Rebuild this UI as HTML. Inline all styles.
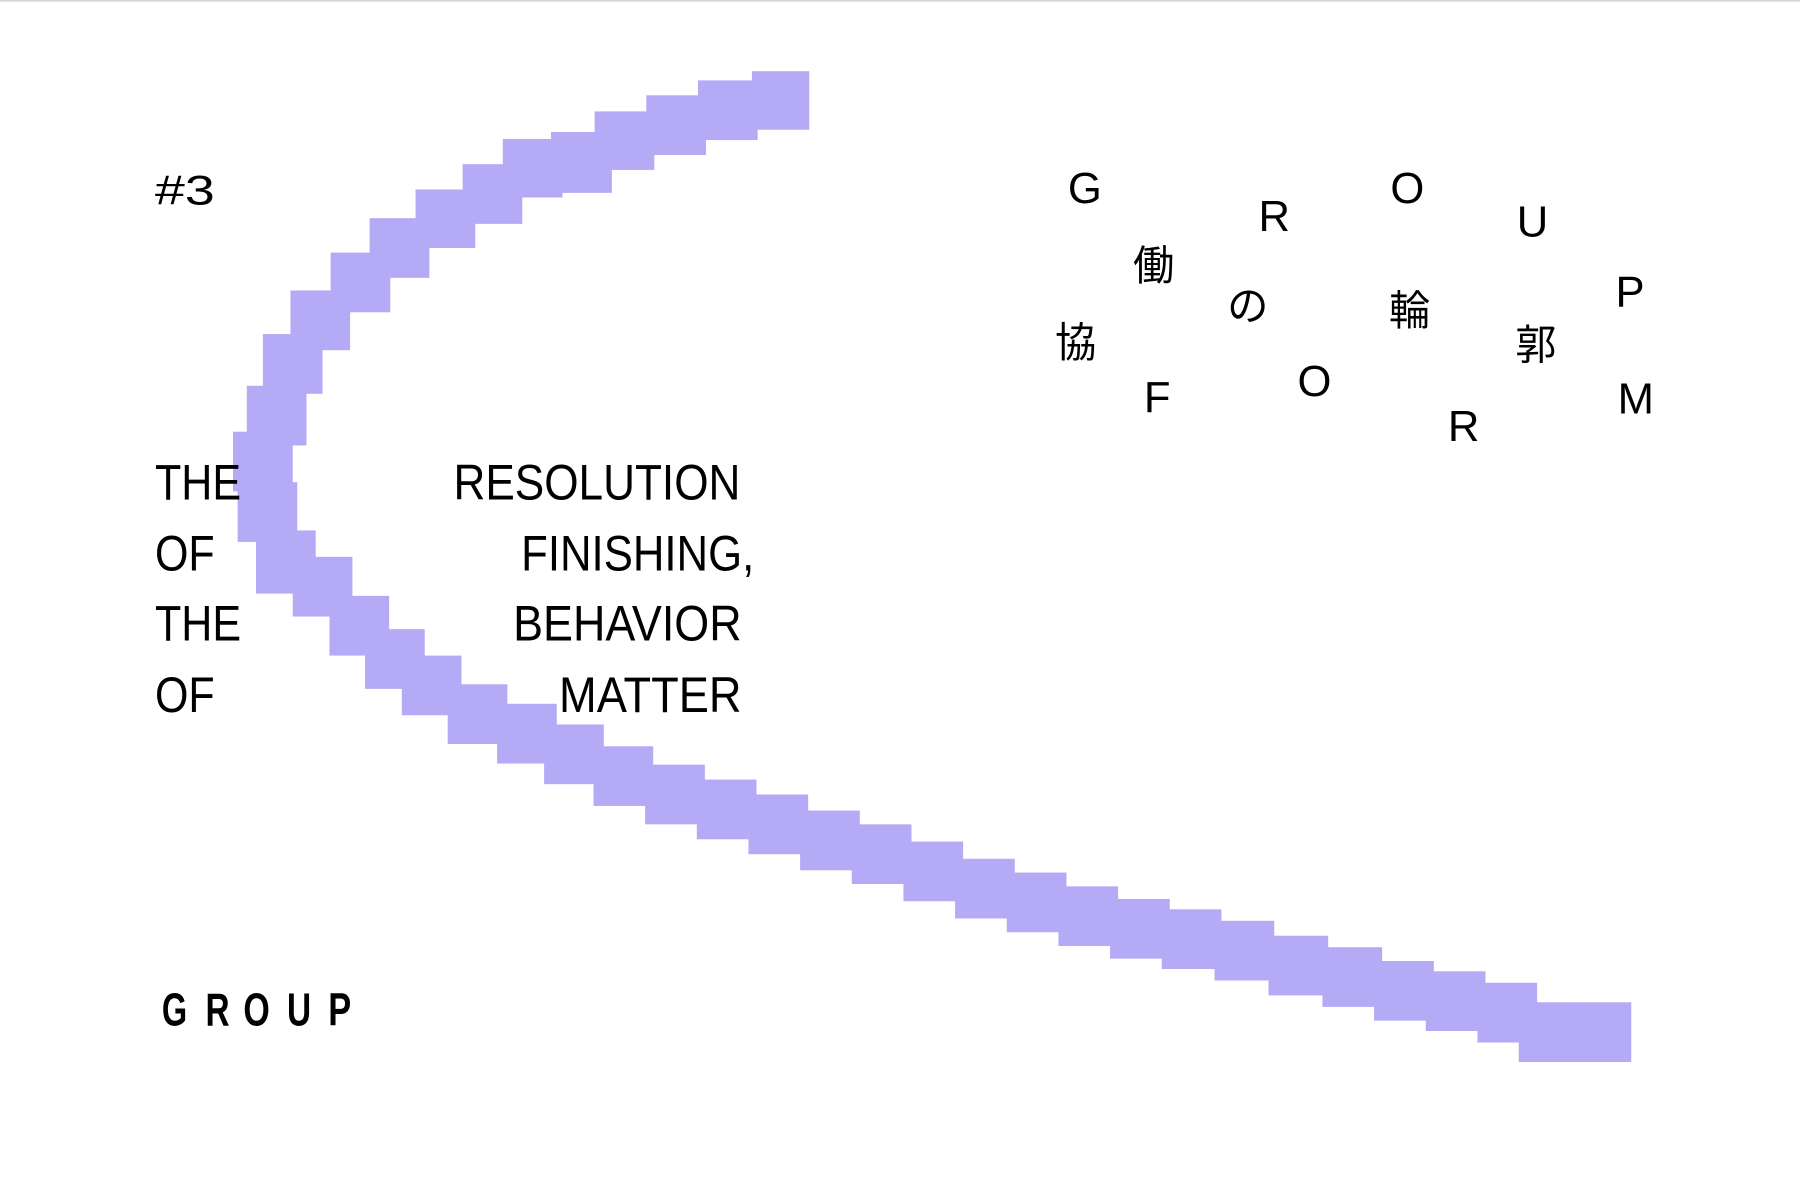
<!DOCTYPE html>
<html><head><meta charset="utf-8"><style>
html,body{margin:0;padding:0;background:#fff;}
svg{display:block}
text{font-family:"Liberation Sans","Noto Sans CJK JP",sans-serif;fill:#000}
</style></head><body>
<svg width="1800" height="1186" viewBox="0 0 1568 1033" preserveAspectRatio="none" xmlns="http://www.w3.org/2000/svg">
<rect x="0" y="0" width="1568" height="1.5" fill="#d8d8d8"/>
<g fill="#b5aaf5">
<rect x="655" y="62" width="50" height="51"/>
<rect x="608" y="70" width="52" height="52"/>
<rect x="563" y="83" width="52" height="52"/>
<rect x="518" y="97" width="52" height="51"/>
<rect x="480" y="115" width="53" height="53"/>
<rect x="438" y="121" width="52" height="51"/>
<rect x="403" y="143" width="52" height="52"/>
<rect x="362" y="165" width="52" height="51"/>
<rect x="322" y="190" width="52" height="52"/>
<rect x="288" y="220" width="52" height="52"/>
<rect x="253" y="253" width="52" height="52"/>
<rect x="229" y="291" width="52" height="52"/>
<rect x="215" y="336" width="52" height="52"/>
<rect x="203" y="376" width="52" height="52"/>
<rect x="207" y="420" width="52" height="52"/>
<rect x="223" y="462" width="52" height="55"/>
<rect x="255" y="485" width="52" height="52"/>
<rect x="287" y="519" width="52" height="52"/>
<rect x="318" y="548" width="52" height="52"/>
<rect x="350" y="571" width="52" height="52"/>
<rect x="390" y="596" width="52" height="52"/>
<rect x="433" y="613" width="52" height="52"/>
<rect x="474" y="631" width="52" height="52"/>
<rect x="517" y="650" width="52" height="52"/>
<rect x="562" y="666" width="52" height="52"/>
<rect x="607" y="679" width="52" height="52"/>
<rect x="652" y="692" width="52" height="52"/>
<rect x="697" y="706" width="52" height="52"/>
<rect x="742" y="718" width="52" height="52"/>
<rect x="787" y="733" width="52" height="52"/>
<rect x="832" y="748" width="52" height="52"/>
<rect x="877" y="760" width="52" height="52"/>
<rect x="922" y="772" width="52" height="52"/>
<rect x="967" y="783" width="52" height="52"/>
<rect x="1012" y="792" width="52" height="52"/>
<rect x="1058" y="802" width="52" height="52"/>
<rect x="1105" y="815" width="52" height="52"/>
<rect x="1152" y="825" width="52" height="52"/>
<rect x="1197" y="837" width="52" height="52"/>
<rect x="1242" y="846" width="52" height="52"/>
<rect x="1287" y="856" width="52" height="52"/>
<rect x="1323" y="873" width="52" height="52"/>
<rect x="1370" y="873" width="51" height="52"/>
</g>
<text x="135" y="178" font-size="36" textLength="52" lengthAdjust="spacingAndGlyphs">#3</text>
<g font-size="44">
<text x="135" y="435" textLength="75" lengthAdjust="spacingAndGlyphs">THE</text>
<text x="135" y="497" textLength="52" lengthAdjust="spacingAndGlyphs">OF</text>
<text x="135" y="558" textLength="75" lengthAdjust="spacingAndGlyphs">THE</text>
<text x="135" y="620" textLength="52" lengthAdjust="spacingAndGlyphs">OF</text>
<text x="395" y="435" textLength="250" lengthAdjust="spacingAndGlyphs">RESOLUTION</text>
<text x="454" y="497" textLength="203" lengthAdjust="spacingAndGlyphs">FINISHING,</text>
<text x="447" y="558" textLength="199" lengthAdjust="spacingAndGlyphs">BEHAVIOR</text>
<text x="487" y="620" textLength="159" lengthAdjust="spacingAndGlyphs">MATTER</text>
</g>
<g font-size="40" font-weight="bold">
<text x="141" y="893" textLength="22" lengthAdjust="spacingAndGlyphs">G</text>
<text x="179" y="893" textLength="21" lengthAdjust="spacingAndGlyphs">R</text>
<text x="212" y="893" textLength="23" lengthAdjust="spacingAndGlyphs">O</text>
<text x="250" y="893" textLength="21" lengthAdjust="spacingAndGlyphs">U</text>
<text x="286" y="893" textLength="20" lengthAdjust="spacingAndGlyphs">P</text>
</g>
<g font-size="38" text-anchor="middle">
<text x="945" y="177">G</text>
<text x="1005" y="244" font-size="36">働</text>
<text x="937" y="311" font-size="36">協</text>
<text x="1110" y="201">R</text>
<text x="1087" y="279" font-size="36">の</text>
<text x="1008" y="359">F</text>
<text x="1226" y="177">O</text>
<text x="1228" y="283" font-size="36">輪</text>
<text x="1145" y="345">O</text>
<text x="1335" y="206">U</text>
<text x="1338" y="313" font-size="36">郭</text>
<text x="1275" y="384">R</text>
<text x="1420" y="267">P</text>
<text x="1425" y="360">M</text>
</g>
</svg>
</body></html>
